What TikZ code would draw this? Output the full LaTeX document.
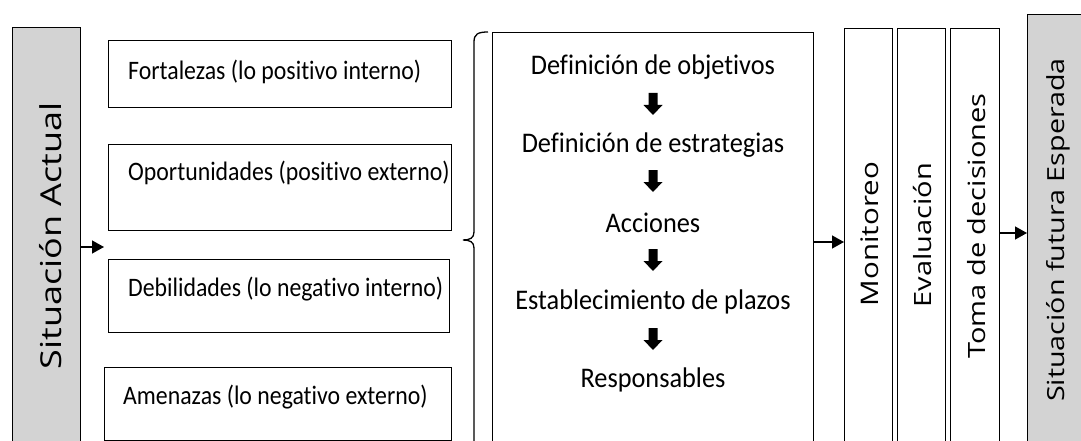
\documentclass[tikz,border=0pt]{standalone}
\usepackage{fontspec}
\setmainfont{Carlito}[RawFeature=-liga]
\newfontfamily\vsans{Open Sans}
\usetikzlibrary{arrows.meta,calc}
\definecolor{boxgray}{RGB}{211,211,211}
\newcommand{\tallA}[1]{\scalebox{1}[1.12]{#1}}
\newcommand{\tallB}[1]{\scalebox{1}[1.08]{#1}}
\begin{document}
\begin{tikzpicture}[x=1pt,y=-1pt,
  frame/.style={draw=black,line width=1.3pt,rectangle,inner sep=0pt,anchor=north west},
  grayframe/.style={frame,fill=boxgray},
  boxtext/.style={anchor=west,inner sep=0pt,font=\fontsize{23.8}{26}\selectfont},
  steptext/.style={inner sep=0pt,font=\fontsize{26.3}{28}\selectfont},
  vtext/.style={rotate=90,inner sep=0pt},
  conn/.style={line width=1.3pt,-{Triangle[length=12pt,width=13pt]}},
  downarr/.pic={\fill[black] (-4.5,0) -- (4.5,0) -- (4.5,12) -- (9.5,12) -- (0,22) -- (-9.5,12) -- (-4.5,12) -- cycle;}
]
\useasboundingbox (0,0) rectangle (1081,441);
\clip (0,0) rectangle (1081,441);
\fill[white] (0,0) rectangle (1081,441);

% left gray box
\node[grayframe,minimum width=68pt,minimum height=430pt] (actual) at (12,27) {};
\node[vtext] (actualtxt) at (51,236) {\vsans\fontsize{36}{38}\selectfont\scalebox{1}[0.8]{Situación Actual}};

% SWOT boxes
\node[frame,minimum width=343pt,minimum height=67pt] (fort) at (108,40) {};
\node[frame,minimum width=343pt,minimum height=86pt] (oport) at (108,144) {};
\node[frame,minimum width=341pt,minimum height=73pt] (debil) at (108,259) {};
\node[frame,minimum width=347pt,minimum height=73pt] (amen) at (104,367) {};
\node[boxtext] (fortt) at (128,72) {\tallA{Fortalezas (lo positivo interno)}};
\node[boxtext] (oportt) at (128,173) {\tallA{Oportunidades (positivo externo)}};
\node[boxtext] (debilt) at (128,289) {\tallA{Debilidades (lo negativo interno)}};
\node[boxtext] (ament) at (123,397) {\tallA{Amenazas (lo negativo externo)}};

\coordinate (swotin) at (104,247);
\draw[conn] (actual.east |- swotin) -- (swotin);

% brace
\coordinate (btop) at (488,32);
\coordinate (btip) at (463,240);
\draw[line width=1.3pt] (btop) .. controls (478,32) and (474,34) .. (474,42)
  -- (474,232) .. controls (474,238) and (470,240) .. (btip)
  .. controls (470,240) and (474,242) .. (474,248) -- (474,460);

% central box
\node[frame,minimum width=321pt,minimum height=430pt] (plan) at (492,32) {};
\node[steptext] (s1) at (653,67) {\tallB{Definición de objetivos}};
\node[steptext] (s2) at (653,145) {\tallB{Definición de estrategias}};
\node[steptext] (s3) at (653,223) {\tallB{Acciones}};
\node[steptext] (s4) at (653,302) {\tallB{Establecimiento de plazos}};
\node[steptext] (s5) at (653,380) {\tallB{Responsables}};
\pic at (653,93) {downarr};
\pic at (653,170) {downarr};
\pic at (653,249) {downarr};
\pic at (653,328) {downarr};

% right columns
\node[frame,minimum width=48pt,minimum height=430pt] (mon) at (844,28) {};
\node[frame,minimum width=48pt,minimum height=430pt] (eval) at (897,28) {};
\node[frame,minimum width=49pt,minimum height=430pt] (toma) at (950,28) {};
\node[grayframe,minimum width=80pt,minimum height=440pt] (futura) at (1027,14) {};
\node[vtext] (montxt) at (870,234) {\vsans\fontsize{29.5}{31}\selectfont\scalebox{1}[0.82]{Monitoreo}};
\node[vtext] (evaltxt) at (922,235) {\vsans\fontsize{29}{31}\selectfont\scalebox{1}[0.82]{Evaluación}};
\node[vtext] (tomatxt) at (977,226) {\vsans\fontsize{29}{31}\selectfont\scalebox{1}[0.82]{Toma de decisiones}};
\node[vtext] (futtxt) at (1058,230) {\vsans\fontsize{28.7}{31}\selectfont\scalebox{1}[0.82]{Situación futura Esperada}};

\coordinate (monin) at (844,242);
\draw[conn] (plan.east |- monin) -- (monin);
\coordinate (futin) at (1027,233);
\draw[conn] (toma.east |- futin) -- (futin);
\end{tikzpicture}
\end{document}
